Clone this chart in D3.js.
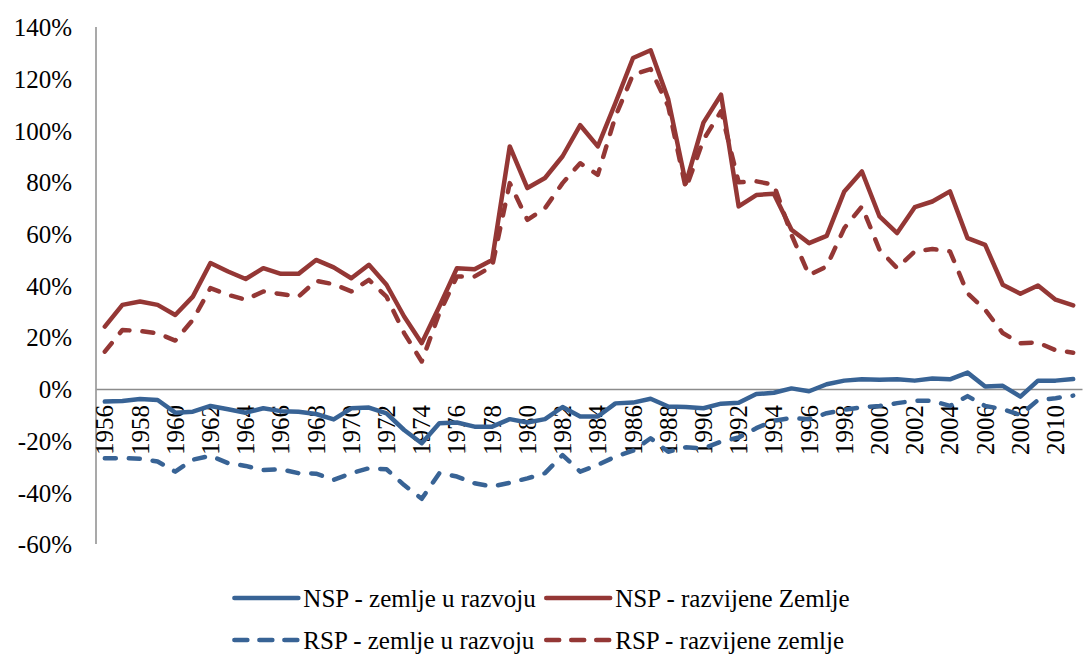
<!DOCTYPE html>
<html>
<head>
<meta charset="utf-8">
<script src="https://cdn.jsdelivr.net/npm/d3@7"></script>
<style>
  body { margin: 0; background: #fff; }
  svg { display: block; }
</style>
</head>
<body>
<div id="chart"></div>
<script>
// years on the category axis
var years = d3.range(1956, 2012);

// NSP / RSP, in percent
var nspRazvoj = [-4.9, -4.7, -3.9, -4.3, -9.2, -8.8, -6.6, -7.9, -9.2, -7.5,
  -8.6, -8.8, -9.7, -11.8, -7.5, -7.2, -9.5, -15.9, -21, -13.3,
  -13, -14.6, -14.6, -11.7, -13, -11.7, -7, -10.7, -10.7, -5.6,
  -5.3, -3.8, -6.8, -7, -7.5, -5.7, -5.4, -2, -1.5, 0.2,
  -0.9, 1.8, 3.2, 3.7, 3.5, 3.7, 3.2, 4, 3.7, 6.3,
  0.9, 1.2, -3, 3.2, 3.2, 3.8];
var nspRazvijene = [24.1, 32.5, 33.8, 32.5, 28.6, 35.7, 48.7, 45.4, 42.5, 46.7,
  44.5, 44.5, 49.9, 47, 42.8, 48, 40.3, 28, 17.7, 31.9,
  46.7, 46.3, 49.9, 93.8, 77.7, 81.6, 90, 102, 93.8, 110.6,
  128, 131, 112, 79.5, 103, 113.8, 70.6, 75, 75.5, 61.6,
  56.4, 59.2, 76.4, 84.1, 66.7, 60.3, 70.3, 72.5, 76.4, 58.3,
  55.7, 40.3, 36.8, 40, 34.5, 32.3];
var rspRazvoj = [-26.8, -26.8, -27, -28.1, -32, -27.4, -25.9, -28.7, -29.8, -31.4,
  -31.1, -32.6, -32.8, -35.2, -32.6, -30.7, -31.1, -37.2, -42.5, -32.6,
  -33.9, -36.5, -37.8, -36.3, -34.6, -32.6, -25.6, -32, -29.4, -26.2,
  -23.9, -19.1, -24.3, -22.6, -23, -20.4, -18.8, -15.2, -12.3, -11.3,
  -11.7, -9.4, -8.1, -7.1, -6.6, -5.5, -4.6, -4.6, -6.6, -2.8,
  -6.6, -7.8, -10.1, -4.3, -3.6, -2.6];
var rspRazvijene = [14.4, 22.8, 22.4, 21.5, 18.7, 26.7, 39, 36.4, 34.5, 37.7,
  36.7, 35.7, 41.8, 40.5, 37.7, 42.2, 35.7, 21.6, 10.6, 29.3,
  43.5, 43.5, 47.4, 79.6, 65.4, 69.9, 79.6, 87.3, 82.8, 105.4,
  121.6, 123.7, 109.3, 77.5, 96.4, 107.4, 79.9, 80.3, 79, 59.6,
  44, 47.4, 62.2, 70.6, 53.8, 46.7, 53.2, 54.1, 53.2, 37,
  30.6, 21.6, 17.7, 17.9, 15, 14];

var yTicks = [-60, -40, -20, 0, 20, 40, 60, 80, 100, 120, 140];
var xLabelYears = years.filter(function(d) { return (d - 1956) % 2 == 0; });

var names = ["NSP - zemlje u razvoju", "NSP - razvijene Zemlje",
  "RSP - zemlje u razvoju", "RSP - razvijene zemlje"];

var blue = "#386395", red = "#943735";
var font = "'Liberation Serif', 'Times New Roman', serif";
var series = [
  {name: names[0], values: nspRazvoj, color: blue, dash: null},
  {name: names[1], values: nspRazvijene, color: red, dash: null},
  {name: names[2], values: rspRazvoj, color: blue, dash: "11,13"},
  {name: names[3], values: rspRazvijene, color: red, dash: "11,13"}
];

var W = 1084, H = 654;
// plot box (not "top", that one is window.top)
var pLeft = 96, pRight = 1082, pTop = 27, pBottom = 544;

var svg = d3.select("#chart").append("svg")
    .attr("width", W)
    .attr("height", H)
    .attr("font-family", font);

var x = d3.scaleBand()
    .domain(years)
    .range([pLeft, pRight]);

var y = d3.scaleLinear()
    .domain([-60, 140])
    .range([pBottom, pTop]);

// y axis, labels only plus the vertical line
var yAxis = svg.append("g")
    .attr("transform", "translate(" + pLeft + ",0)")
    .call(d3.axisLeft(y).tickValues(yTicks).tickSize(0).tickPadding(24)
      .tickFormat(function(d) { return d + "%"; }));
yAxis.attr("font-family", font);
yAxis.select(".domain").remove();
yAxis.selectAll("text")
    .attr("fill", "#000")
    .style("font-size", "25px")
    .attr("dy", "0.35em");

svg.append("line")
    .attr("x1", pLeft).attr("x2", pLeft)
    .attr("y1", pTop).attr("y2", pBottom)
    .attr("stroke", "#8c8c8c")
    .attr("stroke-width", 1.5);

// small marks under the labels
svg.selectAll(".lowtick")
    .data(years.filter(function(d, i) { return i % 2 == 1; }))
  .enter().append("line")
    .attr("class", "lowtick")
    .attr("x1", function(d) { return x(d); })
    .attr("x2", function(d) { return x(d); })
    .attr("y1", 447).attr("y2", 452)
    .attr("stroke", "#bbb")
    .attr("stroke-width", 1);

// category axis crosses at 0
var xAxis = svg.append("g")
    .attr("transform", "translate(0," + y(0) + ")")
    .call(d3.axisBottom(x).tickValues(xLabelYears).tickSize(0).tickPadding(0));
xAxis.attr("font-family", font);
xAxis.select(".domain")
    .attr("stroke", "#8c8c8c")
    .attr("stroke-width", 1.5);
xAxis.selectAll("text")
    .attr("fill", "#000")
    .style("font-size", "25px")
    .attr("text-anchor", "end")
    .attr("dominant-baseline", "central")
    .attr("dy", null)
    .attr("y", 0)
    .attr("transform", "translate(0,16) rotate(-90)");

var line = d3.line()
    .x(function(d, i) { return x(years[i]) + x.bandwidth() / 2; })
    .y(function(d) { return y(d); });

// dashed ones first so solid sits on top like the picture
var order = [series[3], series[2], series[1], series[0]];
svg.selectAll(".serie")
    .data(order)
  .enter().append("path")
    .attr("class", "serie")
    .attr("d", function(s) { return line(s.values); })
    .attr("fill", "none")
    .attr("stroke", function(s) { return s.color; })
    .attr("stroke-width", 4.5)
    .attr("stroke-linejoin", "round")
    .attr("stroke-linecap", "round")
    .attr("stroke-dasharray", function(s) { return s.dash; });

// legend, two rows, centered
var legend = svg.append("g");
var rowY = [598, 640];
var sampleLen = 64;
var items = legend.selectAll(".item")
    .data(series)
  .enter().append("g")
    .attr("class", "item");
items.append("line")
    .attr("x1", 0).attr("x2", sampleLen)
    .attr("y1", 0).attr("y2", 0)
    .attr("stroke", function(s) { return s.color; })
    .attr("stroke-width", 4.5)
    .attr("stroke-linecap", "round")
    .attr("stroke-dasharray", function(s) { return s.dash ? "13,12" : null; });
items.append("text")
    .attr("x", sampleLen + 5)
    .attr("y", 0)
    .attr("dominant-baseline", "central")
    .style("font-size", "25px")
    .text(function(s) { return s.name; });

var widths = [];
items.each(function() { widths.push(this.getBBox().width); });
var col1 = Math.max(widths[0], widths[2]);
var col2 = Math.max(widths[1], widths[3]);
var gap = 10;
var startX = W / 2 - (col1 + gap + col2) / 2;
items.attr("transform", function(s, i) {
  var cx = (i % 2 == 0) ? startX : startX + col1 + gap;
  return "translate(" + cx + "," + rowY[Math.floor(i / 2)] + ")";
});
</script>
</body>
</html>
